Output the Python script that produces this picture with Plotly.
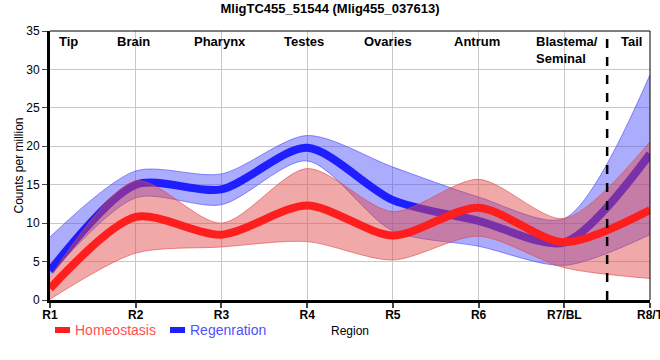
import plotly.graph_objects as go

regions = ["R1", "R2", "R3", "R4", "R5", "R6", "R7/BL", "R8/T"]
x_idx = list(range(len(regions)))

homeo_mean = [1.5, 10.8, 8.5, 12.3, 8.4, 12.0, 7.5, 11.7]
homeo_low = [0.1, 6.1, 6.9, 7.6, 5.2, 8.3, 4.2, 2.8]
homeo_high = [3.0, 15.5, 10.0, 17.1, 11.5, 15.7, 10.6, 20.6]

regen_mean = [3.8, 15.0, 14.4, 19.8, 13.0, 10.3, 7.5, 19.0]
regen_low = [3.3, 13.3, 12.4, 18.1, 9.0, 7.0, 4.5, 8.5]
regen_high = [8.2, 16.8, 16.4, 21.4, 17.3, 13.4, 10.6, 29.3]

section_labels = ["Tip", "Brain", "Pharynx", "Testes", "Ovaries", "Antrum", "Blastema/<br>Seminal", "Tail"]
section_pos = [0.21, 0.97, 1.98, 2.96, 3.94, 4.98, 5.65, 6.78]

RED = "rgb(255,30,30)"
BLUE = "rgb(30,30,255)"
RED_FILL = "rgba(225,70,70,0.47)"
BLUE_FILL = "rgba(70,70,250,0.45)"
RED_EDGE = "rgba(225,70,70,0.6)"
BLUE_EDGE = "rgba(70,70,250,0.6)"
SM = 0.8

fig = go.Figure()

# Regeneration band + line
fig.add_trace(go.Scatter(x=x_idx, y=regen_low, mode="lines", line=dict(color=BLUE_EDGE, width=1, shape="spline", smoothing=SM),
                         showlegend=False, hoverinfo="skip"))
fig.add_trace(go.Scatter(x=x_idx, y=regen_high, mode="lines", fill="tonexty", fillcolor=BLUE_FILL,
                         line=dict(color=BLUE_EDGE, width=1, shape="spline", smoothing=SM),
                         showlegend=False, hoverinfo="skip"))
fig.add_trace(go.Scatter(x=x_idx, y=regen_mean, mode="lines", name="Regenration",
                         line=dict(color=BLUE, width=8, shape="spline", smoothing=SM), showlegend=False))

# Homeostasis band + line
fig.add_trace(go.Scatter(x=x_idx, y=homeo_low, mode="lines", line=dict(color=RED_EDGE, width=1, shape="spline", smoothing=SM),
                         showlegend=False, hoverinfo="skip"))
fig.add_trace(go.Scatter(x=x_idx, y=homeo_high, mode="lines", fill="tonexty", fillcolor=RED_FILL,
                         line=dict(color=RED_EDGE, width=1, shape="spline", smoothing=SM),
                         showlegend=False, hoverinfo="skip"))
fig.add_trace(go.Scatter(x=x_idx, y=homeo_mean, mode="lines", name="Homeostasis",
                         line=dict(color=RED, width=8, shape="spline", smoothing=SM), showlegend=False))

annotations = []
for lab, pos in zip(section_labels, section_pos):
    annotations.append(dict(x=pos, y=1, xref="x", yref="paper", text="<b>" + lab + "</b>", showarrow=False,
                            xanchor="left" if "Blastema" in lab else "center", yanchor="top", yshift=-1, align="left",
                            font=dict(size=13, color="black", family="Liberation Sans, Arial, sans-serif")))

# manual legend
legend_items = [("Homeostasis", RED, "rgb(255,80,80)", 55), ("Regenration", BLUE, "rgb(80,80,255)", 170)]
shapes = []
for name, col, tcol, px in legend_items:
    x0 = (px - 50) / 600
    x1 = (px + 15 - 50) / 600
    shapes.append(dict(type="rect", xref="paper", yref="paper", x0=x0, x1=x1,
                       y0=(300 - 333) / 269, y1=(300 - 327) / 269, fillcolor=col, line=dict(width=0)))
    annotations.append(dict(x=(px + 18 - 50) / 600, y=(300 - 330) / 269, xref="paper", yref="paper", text=name,
                            showarrow=False, xanchor="left", yanchor="middle",
                            font=dict(size=14, color=tcol, family="Liberation Sans, Arial, sans-serif")))

# dashed separator
shapes.append(dict(type="line", xref="x", yref="paper", x0=6.5, x1=6.5, y0=0, y1=1,
                   line=dict(color="black", width=2.5, dash="dash")))
# thin top/right border
shapes.append(dict(type="line", xref="paper", yref="paper", x0=0, x1=1, y0=1, y1=1, line=dict(color="black", width=1)))
shapes.append(dict(type="line", xref="paper", yref="paper", x0=1, x1=1, y0=0, y1=1, line=dict(color="black", width=1)))

fig.update_layout(
    width=660, height=360,
    margin=dict(l=50, r=10, t=31, b=60, autoexpand=False),
    paper_bgcolor="white", plot_bgcolor="white",
    font=dict(family="Liberation Sans, Arial, sans-serif", size=12, color="black"),
    title=dict(text="<b>MligTC455_51544 (Mlig455_037613)</b>", x=0.5, xanchor="center", y=0.99, yanchor="top",
               font=dict(size=13)),
    annotations=annotations,
    shapes=shapes,
    showlegend=False,
)
fig.update_xaxes(range=[0, 7], tickvals=x_idx, ticktext=["<b>" + r + "</b>" for r in regions], automargin=False,
                 showgrid=True, gridcolor="#c8c8c8", gridwidth=1, zeroline=False,
                 showline=True, linecolor="black", linewidth=3, ticks="outside", ticklen=5, tickwidth=1.5,
                 ticklabelstandoff=-3, ticklabeloverflow="allow",
                 tickfont=dict(size=12), title=dict(text="Region", font=dict(size=12), standoff=6))
fig.update_yaxes(range=[0, 35], dtick=5, automargin=False, showgrid=True, gridcolor="#c8c8c8", gridwidth=1, zeroline=False,
                 showline=True, linecolor="black", linewidth=3, ticks="outside", ticklen=5, tickwidth=1,
                 tickfont=dict(size=12), title=dict(text="Counts per million", font=dict(size=12), standoff=0))

fig.write_html("out.html", config={"displayModeBar": False},
               post_script="document.body.style.margin='0';document.body.style.overflow='hidden';")
